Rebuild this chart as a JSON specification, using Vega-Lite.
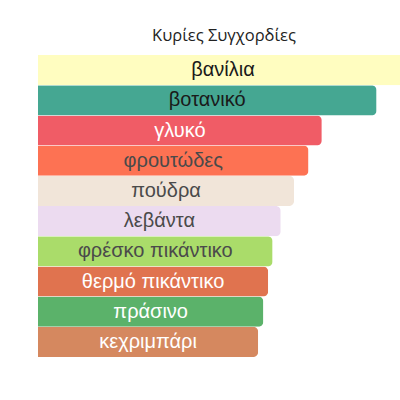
{
  "$schema": "https://vega.github.io/schema/vega-lite/v6.json",
  "autosize": "none",
  "width": 362,
  "height": 302,
  "padding": {"left": 38, "top": 55, "right": 0, "bottom": 43},
  "background": "white",
  "title": {"text": "Κυρίες Συγχορδίες", "font": "Open Sans", "fontSize": 16.5, "fontWeight": "normal", "color": "#222222", "offset": 11, "dx": 5},
  "config": {"view": {"stroke": null}},
  "data": {"values": [
    {"accord": "βανίλια", "value": 100},
    {"accord": "βοτανικό", "value": 91.5},
    {"accord": "γλυκό", "value": 76.7},
    {"accord": "φρουτώδες", "value": 73.1},
    {"accord": "πούδρα", "value": 69.2},
    {"accord": "λεβάντα", "value": 65.6},
    {"accord": "φρέσκο πικάντικο", "value": 63.4},
    {"accord": "θερμό πικάντικο", "value": 62.2},
    {"accord": "πράσινο", "value": 60.9},
    {"accord": "κεχριμπάρι", "value": 59.5}
  ]},
  "encoding": {
    "y": {"field": "accord", "type": "nominal", "sort": null, "axis": null, "scale": {"paddingInner": 0, "paddingOuter": 0}}
  },
  "layer": [
    {
      "mark": {"type": "bar", "cornerRadiusTopRight": 5, "cornerRadiusBottomRight": 5},
      "encoding": {
        "x": {"field": "value", "type": "quantitative", "axis": null, "scale": {"domain": [0, 97.84], "nice": false, "zero": true}},
        "color": {"field": "accord", "type": "nominal", "legend": null, "scale": {
          "domain": ["βανίλια", "βοτανικό", "γλυκό", "φρουτώδες", "πούδρα", "λεβάντα", "φρέσκο πικάντικο", "θερμό πικάντικο", "πράσινο", "κεχριμπάρι"],
          "range": ["#FFFDC0", "#45A792", "#F05C66", "#FD7253", "#F1E5D9", "#ECDBF0", "#AADC6A", "#E0734F", "#5BB26A", "#D5885F"]}}
      }
    },
    {
      "transform": [{"calculate": "datum.value / 2", "as": "mid"}],
      "mark": {"type": "text", "font": "Liberation Sans", "fontSize": 20, "align": "center", "baseline": "middle"},
      "encoding": {
        "x": {"field": "mid", "type": "quantitative"},
        "text": {"field": "accord"},
        "color": {"condition": [
          {"test": "indexof(['γλυκό','θερμό πικάντικο','πράσινο','κεχριμπάρι'], datum.accord) >= 0", "value": "#ffffff"},
          {"test": "datum.accord === 'βανίλια' || datum.accord === 'βοτανικό'", "value": "#1a1a1a"}
        ], "value": "#4a4a4a"}
      }
    }
  ]
}
